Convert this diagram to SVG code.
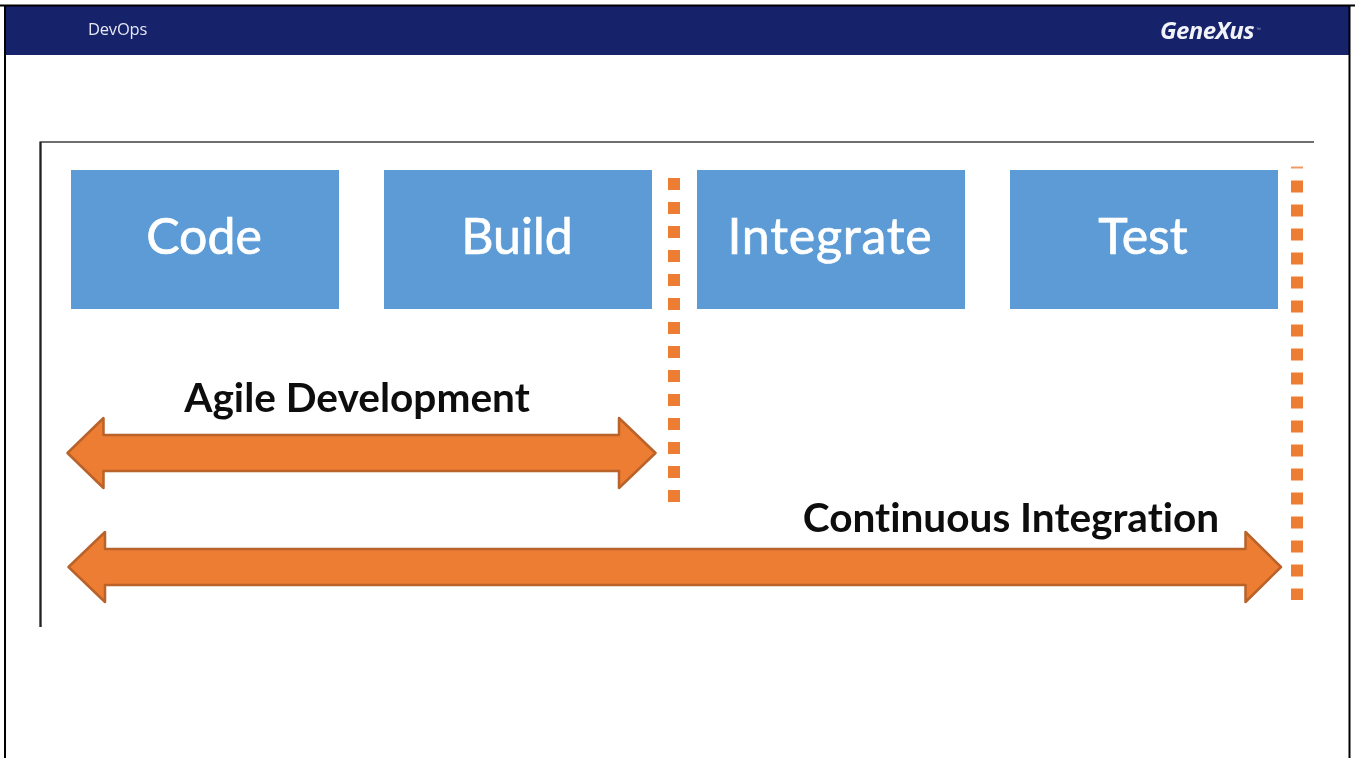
<svg xmlns="http://www.w3.org/2000/svg" width="1355" height="758" viewBox="0 0 1355 758">
<defs><filter id="soft" x="-5%" y="-5%" width="110%" height="110%"><feGaussianBlur stdDeviation="0.6"/></filter></defs>
<style>
.box{fill:#5b9bd5}
.boxt{font:50px Lato,"Liberation Sans",sans-serif;fill:#fff;stroke:#fff;stroke-width:.7;text-anchor:middle}
.lab{font:bold 40.600px Lato,"Liberation Sans",sans-serif;font-variant-ligatures:none;fill:#111;text-anchor:middle}
.arrow{fill:#ed7d31;stroke:#b9622a;stroke-width:2.5;stroke-linejoin:round}
.dots{stroke:#ed7d31;stroke-width:12;stroke-dasharray:12 12;fill:none}
</style>
<rect width="1355" height="758" fill="#fff"/>
<g filter="url(#soft)">
<g id="slide-header">
<rect x="5" y="6" width="1344" height="49" fill="#15216b"/>
<text x="88" y="35" font-family="'Open Sans','Liberation Sans',sans-serif" font-size="16.500" letter-spacing="-0.2" fill="#e6e8f2">DevOps</text>
<text x="1160" y="39" font-family="'Open Sans','Liberation Sans',sans-serif" font-size="24" font-weight="700" font-style="italic" letter-spacing="-0.6" fill="#f2f3f8">GeneXus</text>
<text x="1256" y="31" font-family="'Liberation Sans',sans-serif" font-size="5" fill="#aab">™</text>
</g>
<path id="slide-border" d="M0 5.500H1355M5 5V758M1349.500 5V758" fill="none" stroke="#000" stroke-width="2"/>
<path id="image-frame" d="M1314 142H40.500V627" fill="none" stroke="#6e6e6e" stroke-width="2"/>
<path d="M40.500 142V627" fill="none" stroke="#222" stroke-width="2"/>
<g id="code"><rect class="box" x="71" y="170" width="268" height="139"/><text class="boxt" x="204" y="254">Code</text></g>
<g id="build"><rect class="box" x="384" y="170" width="268" height="139"/><text class="boxt" x="517" y="254">Build</text></g>
<g id="integrate"><rect class="box" x="697" y="170" width="268" height="139"/><text class="boxt" x="830" y="254" letter-spacing="0.8">Integrate</text></g>
<g id="test"><rect class="box" x="1010" y="170" width="268" height="139"/><text class="boxt" x="1143" y="254">Test</text></g>
<g id="connectors">
<path id="divider-1" class="dots" d="M674 178V503"/>
<path id="divider-2" class="dots" d="M1297 180.500V600"/>
<path d="M1291 167.500H1303" stroke="#ed9a66" stroke-width="2" fill="none"/>
<path id="agile-arrow" class="arrow" d="M67.500 453L103.500 418V435H619V418L655.500 453L619 488V471H103.500V488Z"/>
<path id="ci-arrow" class="arrow" d="M68.500 567L105 532V549H1245.500V532L1281 567L1245.500 602V585H105V602Z"/>
</g>
<g id="agile-label"><text class="lab" x="357" y="412">Agile Development</text></g>
<g id="ci-label"><text class="lab" x="1011" y="532">Continuous Integration</text></g>
</g>
</svg>
